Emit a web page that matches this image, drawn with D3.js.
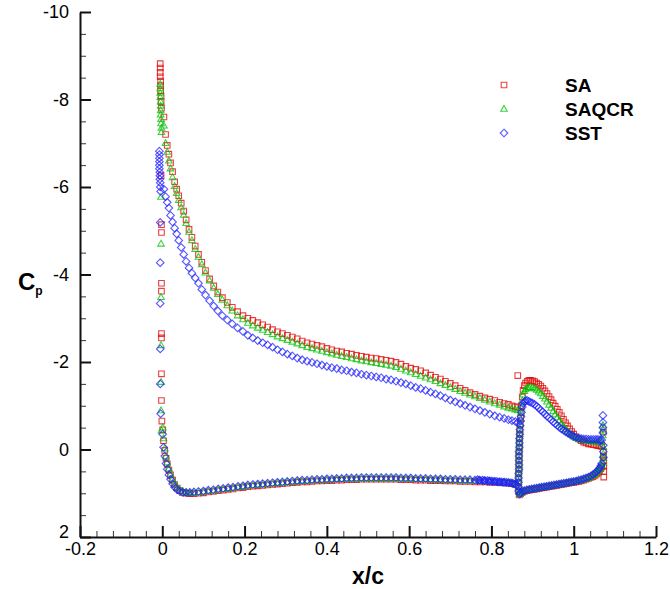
<!DOCTYPE html>
<html><head><meta charset="utf-8">
<script src="https://cdn.jsdelivr.net/npm/d3@7"></script>
<style>body{margin:0;background:#fff}svg{display:block}text{font-family:"Liberation Sans",Arial,sans-serif}</style>
</head><body><svg id="c" width="670" height="589"></svg>
<script>
// ---------- DATA ----------
const seriesNames = ["SA", "SAQCR", "SST"];
const xTicks = [-0.2, 0, 0.2, 0.4, 0.6, 0.8, 1, 1.2];
const xTickLabels = ["-0.2", "0", "0.2", "0.4", "0.6", "0.8", "1", "1.2"];
const yTicks = [-10, -8, -6, -4, -2, 0, 2];
const yTickLabels = ["-10", "-8", "-6", "-4", "-2", "0", "2"];

// main element, upper surface
const xMainUpper = [0.004,0.008,0.012,0.016,0.020,0.025,0.030,0.035,0.040,0.046,0.052,0.058,0.065,0.072,0.080,0.088,0.096,0.105,0.115,0.125,0.135,0.146,0.158,0.170,0.183,0.196,
0.208,0.220,0.232,0.244,0.256,0.268,0.280,0.292,0.304,0.316,0.328,0.340,0.352,0.364,0.376,0.388,0.400,0.412,0.424,0.436,0.448,0.460,0.472,0.484,0.496,0.508,0.520,0.532,0.544,0.556,0.568,0.580,0.592,0.604,0.616,0.628,0.640,0.652,0.664,0.676,0.688,0.700,0.712,0.724,0.736,0.748,0.760,0.772,0.784,0.796,0.808,0.820,0.831,0.841,0.850,0.858,0.864];
const saMainUpper = [-7.6,-7.2,-6.95,-6.75,-6.55,-6.35,-6.12,-5.95,-5.8,-5.63,-5.45,-5.25,-5.03,-4.85,-4.65,-4.46,-4.28,-4.09,-3.9,-3.74,-3.6,-3.47,-3.36,-3.25,-3.15,-3.06,
-3.00,-2.95,-2.90,-2.85,-2.80,-2.74,-2.69,-2.65,-2.61,-2.57,-2.53,-2.48,-2.44,-2.41,-2.38,-2.35,-2.31,-2.28,-2.25,-2.23,-2.20,-2.18,-2.15,-2.13,-2.11,-2.09,-2.08,-2.06,-2.04,-2.02,-1.99,-1.95,-1.90,-1.86,-1.83,-1.80,-1.75,-1.70,-1.65,-1.61,-1.56,-1.51,-1.46,-1.40,-1.35,-1.30,-1.26,-1.22,-1.18,-1.15,-1.12,-1.08,-1.05,-1.03,-1.00,-0.98,-0.96];
const qcrMainUpper = [-7.4,-7.0,-6.8,-6.6,-6.42,-6.22,-6.02,-5.86,-5.7,-5.53,-5.36,-5.17,-4.97,-4.78,-4.58,-4.4,-4.23,-4.04,-3.86,-3.69,-3.55,-3.42,-3.29,-3.17,-3.06,-2.97,
-2.89,-2.83,-2.78,-2.73,-2.68,-2.63,-2.58,-2.54,-2.50,-2.46,-2.42,-2.38,-2.34,-2.31,-2.28,-2.25,-2.22,-2.19,-2.16,-2.13,-2.11,-2.08,-2.06,-2.03,-2.01,-1.99,-1.97,-1.95,-1.93,-1.91,-1.88,-1.84,-1.80,-1.76,-1.72,-1.68,-1.64,-1.60,-1.56,-1.51,-1.47,-1.42,-1.38,-1.33,-1.29,-1.25,-1.21,-1.17,-1.13,-1.09,-1.05,-1.02,-0.98,-0.95,-0.93,-0.91,-0.89];
const sstMainUpper = [-5.95,-5.78,-5.65,-5.52,-5.35,-5.2,-5.06,-4.93,-4.78,-4.62,-4.46,-4.3,-4.15,-4.03,-3.92,-3.8,-3.66,-3.53,-3.4,-3.28,-3.17,-3.06,-2.96,-2.87,-2.78,-2.70,
-2.61,-2.55,-2.49,-2.44,-2.39,-2.34,-2.28,-2.23,-2.18,-2.14,-2.09,-2.05,-2.02,-1.99,-1.96,-1.93,-1.90,-1.87,-1.85,-1.82,-1.80,-1.77,-1.75,-1.72,-1.70,-1.68,-1.66,-1.64,-1.61,-1.59,-1.56,-1.53,-1.50,-1.46,-1.42,-1.39,-1.35,-1.31,-1.27,-1.23,-1.18,-1.13,-1.09,-1.05,-1.01,-0.97,-0.93,-0.89,-0.85,-0.81,-0.77,-0.74,-0.71,-0.68,-0.66,-0.64,-0.62];

// main element, lower surface
const xMainLower = [0.001,0.003,0.006,0.009,0.012,0.016,0.020,0.025,0.030,0.036,0.043,0.050,0.058,0.067,0.077,0.088,
0.100,0.112,0.124,0.136,0.148,0.160,0.172,0.184,0.196,0.208,0.220,0.232,0.244,0.256,0.268,0.280,0.292,0.304,0.316,0.328,0.340,0.352,0.364,0.376,0.388,0.400,0.412,0.424,0.436,0.448,0.460,0.472,0.484,0.496,0.508,0.520,0.532,0.544,0.556,0.568,0.580,0.592,0.604,0.616,0.628,0.640,0.652,0.664,0.676,0.688,0.700,0.712,0.724,0.736,0.748,0.760,
0.772,0.784,0.796,0.808,0.820,0.831,0.841,0.850,0.858];
const saMainLower = [-0.45,-0.2,0.02,0.2,0.33,0.47,0.58,0.7,0.8,0.88,0.94,0.98,1.0,1.01,1.01,1.0,
0.99,0.97,0.96,0.94,0.93,0.91,0.90,0.88,0.87,0.85,0.84,0.83,0.82,0.81,0.80,0.79,0.78,0.77,0.76,0.75,0.74,0.74,0.73,0.72,0.72,0.71,0.71,0.70,0.70,0.69,0.69,0.69,0.68,0.68,0.68,0.68,0.68,0.68,0.68,0.68,0.69,0.69,0.69,0.70,0.70,0.70,0.71,0.71,0.71,0.72,0.72,0.72,0.73,0.73,0.73,0.74,
0.74,0.74,0.75,0.75,0.76,0.76,0.77,0.78,0.80];
const qcrMainLower = [-0.5,-0.25,-0.02,0.16,0.3,0.44,0.56,0.68,0.78,0.86,0.92,0.96,0.98,0.99,0.99,0.98,
0.97,0.95,0.94,0.92,0.91,0.89,0.88,0.86,0.85,0.83,0.82,0.81,0.80,0.79,0.78,0.77,0.76,0.75,0.74,0.73,0.72,0.72,0.71,0.70,0.70,0.69,0.69,0.68,0.68,0.67,0.67,0.67,0.66,0.66,0.66,0.66,0.66,0.66,0.66,0.66,0.67,0.67,0.67,0.68,0.68,0.68,0.69,0.69,0.69,0.70,0.70,0.70,0.71,0.71,0.71,0.72,
0.72,0.72,0.73,0.73,0.74,0.74,0.75,0.76,0.78];
const sstMainLower = [-0.35,-0.05,0.15,0.32,0.45,0.58,0.68,0.78,0.86,0.92,0.96,0.98,0.98,0.98,0.97,0.96,
0.95,0.93,0.92,0.90,0.89,0.87,0.86,0.84,0.83,0.81,0.80,0.79,0.78,0.77,0.76,0.75,0.74,0.73,0.72,0.71,0.70,0.70,0.69,0.68,0.68,0.67,0.67,0.66,0.66,0.65,0.65,0.65,0.64,0.64,0.64,0.64,0.64,0.64,0.64,0.64,0.65,0.65,0.65,0.66,0.66,0.66,0.67,0.67,0.67,0.68,0.68,0.68,0.69,0.69,0.69,0.70,
0.70,0.71,0.72,0.73,0.74,0.75,0.76,0.77,0.79];

// flap, upper surface (starting at flap leading-edge stagnation)
const xFlapUpper = [0.866,0.866,0.866,0.866,0.866,0.867,0.867,0.867,0.867,0.867,0.868,0.868,0.868,0.869,0.869,0.870,0.871,0.872,0.873,0.875,
0.877,0.880,0.883,0.887,0.891,0.895,
0.900,0.905,0.910,0.915,0.920,0.925,0.930,0.935,0.940,0.945,0.950,0.955,0.960,0.965,0.970,0.975,0.980,0.985,0.990,0.995,1.000,
1.006,1.012,1.018,1.024,1.030,1.036,1.042,1.048,1.054,1.059,1.064,1.068];
const saFlapUpper = [0.95,0.85,0.75,0.65,0.55,0.45,0.35,0.25,0.15,0.05,-0.05,-0.15,-0.25,-0.35,-0.45,-0.58,-0.72,-0.86,-1.0,-1.2,
-1.35,-1.46,-1.52,-1.56,-1.58,-1.58,
-1.57,-1.55,-1.52,-1.49,-1.45,-1.40,-1.34,-1.28,-1.21,-1.14,-1.06,-0.99,-0.92,-0.85,-0.77,-0.69,-0.61,-0.54,-0.47,-0.41,-0.35,
-0.29,-0.24,-0.2,-0.17,-0.15,-0.13,-0.12,-0.11,-0.1,-0.09,-0.08,-0.07];
const qcrFlapUpper = [0.95,0.85,0.75,0.65,0.55,0.45,0.35,0.25,0.15,0.05,-0.05,-0.15,-0.25,-0.35,-0.45,-0.57,-0.7,-0.83,-0.96,-1.12,
-1.25,-1.33,-1.38,-1.41,-1.42,-1.42,
-1.41,-1.39,-1.36,-1.32,-1.28,-1.22,-1.16,-1.09,-1.02,-0.95,-0.87,-0.8,-0.73,-0.66,-0.59,-0.52,-0.46,-0.41,-0.37,-0.33,-0.29,
-0.26,-0.24,-0.22,-0.21,-0.2,-0.19,-0.19,-0.18,-0.18,-0.17,-0.17,-0.17];
const sstFlapUpper = [0.95,0.85,0.75,0.65,0.55,0.45,0.35,0.25,0.15,0.05,-0.05,-0.15,-0.25,-0.35,-0.45,-0.55,-0.65,-0.75,-0.85,-0.97,
-1.05,-1.09,-1.11,-1.12,-1.1,-1.08,
-1.06,-1.03,-0.99,-0.95,-0.9,-0.86,-0.81,-0.76,-0.72,-0.68,-0.63,-0.59,-0.55,-0.51,-0.47,-0.44,-0.41,-0.38,-0.35,-0.33,-0.3,
-0.28,-0.26,-0.25,-0.24,-0.24,-0.23,-0.23,-0.23,-0.23,-0.23,-0.22,-0.22];

// flap, lower surface
const xFlapLower = [0.868,0.871,0.875,0.880,0.886,0.892,0.898,0.904,0.910,0.916,0.922,0.928,0.934,0.940,0.946,0.952,0.958,0.964,0.970,0.976,0.982,0.988,0.994,1.000,1.006,1.012,1.018,1.024,1.030,1.036,1.042,1.047,1.052,1.056,1.060,1.063,1.066,1.068];
const saFlapLower = [1.04,1.01,0.98,0.96,0.94,0.93,0.92,0.91,0.9,0.89,0.88,0.87,0.86,0.85,0.84,0.83,0.82,0.81,0.8,0.79,0.78,0.77,0.76,0.75,0.74,0.73,0.72,0.7,0.68,0.66,0.64,0.62,0.59,0.56,0.52,0.48,0.44,0.4];
const qcrFlapLower = [1.03,1.0,0.97,0.95,0.93,0.92,0.91,0.9,0.89,0.88,0.87,0.86,0.85,0.84,0.83,0.82,0.81,0.8,0.79,0.78,0.77,0.76,0.75,0.74,0.73,0.72,0.7,0.69,0.67,0.65,0.62,0.59,0.56,0.53,0.49,0.45,0.4,0.36];
const sstFlapLower = [1.02,0.99,0.96,0.94,0.92,0.91,0.9,0.89,0.88,0.87,0.86,0.85,0.84,0.83,0.82,0.81,0.8,0.79,0.78,0.77,0.76,0.75,0.74,0.73,0.72,0.7,0.69,0.67,0.65,0.63,0.6,0.57,0.54,0.5,0.46,0.42,0.37,0.32];

// leading-edge stacks, trailing-edge stacks and other isolated points [x, Cp]
const saExtra = [[-0.005,-8.82],[-0.005,-8.72],[-0.005,-8.62],[-0.005,-8.52],[-0.004,-8.42],[-0.004,-8.32],[-0.004,-8.2],[-0.003,-8.08],[-0.003,-7.95],[-0.002,-7.8],
[-0.003,-6.26],[-0.002,-5.14],[-0.002,-4.96],[-0.002,-3.8],[-0.002,-3.62],[-0.002,-2.65],[-0.002,-2.55],[-0.002,-1.73],[-0.002,-1.12],[-0.001,-0.65],
[0.864,-1.69],[1.072,-0.4],[1.072,0.05],[1.072,0.15],[1.073,0.25],[1.073,0.38],[1.073,0.5],[1.073,0.63]];
const qcrExtra = [[-0.005,-8.35],[-0.005,-8.25],[-0.005,-8.15],[-0.005,-8.05],[-0.004,-7.95],[-0.004,-7.85],[-0.004,-7.75],[-0.004,-7.65],[-0.003,-7.55],[-0.003,-7.45],[-0.002,-7.35],[-0.002,-7.25],
[-0.003,-5.77],[-0.003,-4.7],[-0.003,-3.48],[-0.003,-2.38],[-0.003,-1.54],[-0.003,-0.89],[-0.002,-0.43],
[1.071,-0.56],[1.071,-0.45],[1.071,-0.32],[1.072,-0.05],[1.072,0.1],[1.072,0.2],[1.072,0.3]];
const sstExtra = [[-0.007,-6.82],[-0.007,-6.74],[-0.007,-6.66],[-0.007,-6.58],[-0.007,-6.5],[-0.007,-6.42],[-0.006,-6.34],[-0.006,-6.26],[-0.006,-6.18],[-0.005,-6.1],[-0.005,-6.0],[-0.004,-5.9],
[-0.005,-5.19],[-0.005,-4.27],[-0.005,-3.34],[-0.005,-2.3],[-0.005,-1.5],[-0.004,-0.82],
[0.766,0.69],[0.770,0.70],[0.778,0.70],[0.782,0.71],[0.790,0.71],[0.794,0.72],[0.800,0.72],[0.804,0.73],[0.812,0.73],[0.816,0.74],[0.824,0.74],[0.828,0.75],[0.836,0.75],[0.845,0.76],[0.854,0.78],[0.862,0.82],
[1.071,-0.78],[1.071,-0.62],[1.071,-0.5],[1.071,-0.38],[1.072,-0.1],[1.072,0.05],[1.072,0.18]];

// ---------- BUILD ----------
const pairs = (xs, cs) => xs.map((v, i) => [v, cs[i]]);
const series = [
  {name: seriesNames[0], color: "#e00000", shape: "square",
   pts: [].concat(saExtra, pairs(xMainUpper, saMainUpper), pairs(xMainLower, saMainLower), pairs(xFlapUpper, saFlapUpper), pairs(xFlapLower, saFlapLower))},
  {name: seriesNames[1], color: "#00c000", shape: "triangle",
   pts: [].concat(qcrExtra, pairs(xMainUpper, qcrMainUpper), pairs(xMainLower, qcrMainLower), pairs(xFlapUpper, qcrFlapUpper), pairs(xFlapLower, qcrFlapLower))},
  {name: seriesNames[2], color: "#2020ff", shape: "diamond",
   pts: [].concat(sstExtra, pairs(xMainUpper, sstMainUpper), pairs(xMainLower, sstMainLower), pairs(xFlapUpper, sstFlapUpper), pairs(xFlapLower, sstFlapLower))}
];

const shapes = {
  square: "M-2.8,-2.8h5.6v5.6h-5.6Z",
  triangle: "M0,-3.6L3.3,2.2L-3.3,2.2Z",
  diamond: "M0,-3.8L3.8,0L0,3.8L-3.8,0Z"
};

const svg = d3.select("#c");
const x = d3.scaleLinear().domain([-0.2, 1.2]).range([80, 656]);
const y = d3.scaleLinear().domain([-10, 2]).range([12, 537]);

// markers
series.forEach(s => {
  svg.append("g").selectAll("path").data(s.pts).join("path")
    .attr("d", shapes[s.shape])
    .attr("transform", d => `translate(${x(d[0])},${y(d[1])})`)
    .attr("fill", "none").attr("stroke", s.color)
    .attr("stroke-width", 1.1).attr("stroke-opacity", 0.75);
});

// axes
const xMinor = d3.range(-0.2, 1.2001, 0.04).filter(v => Math.abs(v / 0.2 - Math.round(v / 0.2)) > 1e-6);
const yMinor = d3.range(-10, 2.001, 0.5).filter(v => Math.abs(v / 2 - Math.round(v / 2)) > 1e-6);

const gxm = svg.append("g").attr("transform", "translate(0,537)")
  .call(d3.axisBottom(x).tickValues(xMinor).tickSize(-6).tickSizeOuter(0).tickFormat(""));
const gym = svg.append("g").attr("transform", "translate(80,0)")
  .call(d3.axisLeft(y).tickValues(yMinor).tickSize(-6).tickSizeOuter(0).tickFormat(""));
[gxm, gym].forEach(g => { g.select(".domain").remove(); g.selectAll("line").attr("stroke", "#333").attr("stroke-width", 1); });

const gx = svg.append("g").attr("transform", "translate(0,537)")
  .call(d3.axisBottom(x).tickValues(xTicks).tickSize(-11).tickSizeOuter(0).tickPadding(5)
    .tickFormat((d, i) => xTickLabels[i]));
const gy = svg.append("g").attr("transform", "translate(80,0)")
  .call(d3.axisLeft(y).tickValues(yTicks).tickSize(-11).tickSizeOuter(0).tickPadding(11)
    .tickFormat((d, i) => yTickLabels[i]));
[gx, gy].forEach(g => {
  g.select(".domain").attr("stroke", "#111").attr("stroke-width", 2);
  g.selectAll(".tick line").attr("stroke", "#111").attr("stroke-width", 2);
  g.selectAll("text").attr("font-size", 18).attr("fill", "#000")
    .attr("font-family", "'Liberation Sans', Arial, sans-serif");
});
// the lowest y label sits just above the x labels, as in the reference
gy.selectAll(".tick text").filter(d => d === 2).attr("dy", "0.05em");

// axis titles
svg.append("text").attr("x", 368).attr("y", 584).attr("text-anchor", "middle")
  .attr("font-size", 23).attr("font-weight", "bold").text("x/c");
const cp = svg.append("text").attr("x", 18).attr("y", 290).attr("font-size", 24).attr("font-weight", "bold");
cp.append("tspan").text("C");
cp.append("tspan").attr("dy", 5).attr("font-size", 12).text("p");

// legend
const leg = svg.append("g");
series.forEach((s, i) => {
  const ly = 85 + i * 24;
  leg.append("path").attr("d", shapes[s.shape]).attr("transform", `translate(504,${ly})`)
    .attr("fill", "none").attr("stroke", s.color).attr("stroke-width", 1.1).attr("stroke-opacity", 0.75);
  leg.append("text").attr("x", 565).attr("y", ly + 7).attr("font-size", 19).attr("font-weight", "bold")
    .text(s.name);
});
</script></body></html>
